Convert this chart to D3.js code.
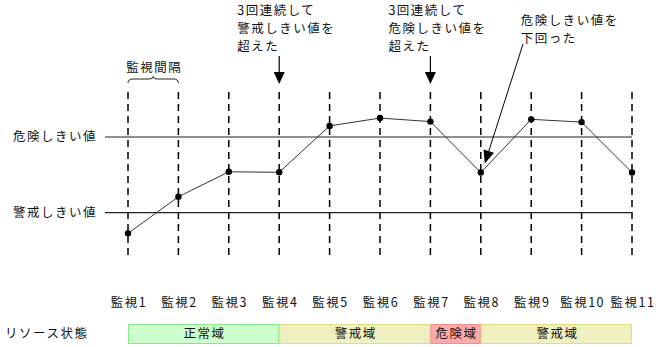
<!DOCTYPE html>
<html><head><meta charset="utf-8">
<script src="https://cdn.jsdelivr.net/npm/d3@7"></script>
<style>
body{margin:0;background:#fff;}
text{font-family:"Noto Sans CJK JP","Noto Sans",sans-serif;font-size:12.5px;fill:#111;letter-spacing:1.5px;}
</style></head><body>
<svg id="c" width="656" height="347"></svg>
<script>
const categories = ["監視1","監視2","監視3","監視4","監視5","監視6","監視7","監視8","監視9","監視10","監視11"];
const values = [31.8, 46.3, 56.2, 56.0, 74.4, 77.5, 76.1, 55.9, 77.0, 75.9, 55.9];
const thresholdLabels = ["危険しきい値","警戒しきい値"];
const thresholdValues = [70, 40];
const stateLabels = ["正常域","警戒域","危険域","警戒域"];
const stateStart = [0, 3, 6, 7];
const stateEnd = [3, 6, 7, 10];
const stateTypes = ["normal","warning","danger","warning"];
const annotations = [
  {lines:["3回連続して","警戒しきい値を","超えた"], at:3},
  {lines:["3回連続して","危険しきい値を","超えた"], at:6}
];
const noteBelow = {lines:["危険しきい値を","下回った"], at:7};

const svg = d3.select("#c");
const x = d3.scalePoint().domain(categories).range([128, 632]);
const y = d3.scaleLinear().domain([0, 100]).range([313.6, 61.3]);
const fills = {normal:"#ccffcc", warning:"#efefc0", danger:"#ffaaaa"};
const strokes = {normal:"#88e888", warning:"#dede80", danger:"#ee9090"};
const LH = 18.2;

// dashed verticals
svg.append("g").selectAll("line").data(categories).join("line")
  .attr("x1", d=>x(d)).attr("x2", d=>x(d)).attr("y1", 92).attr("y2", 259)
  .attr("stroke","#000").attr("stroke-width",1.5).attr("stroke-dasharray","7,5");

// thresholds
const th = svg.append("g");
thresholdValues.forEach((v,i)=>{
  th.append("line").attr("x1",105).attr("x2",x(categories[categories.length-1]))
    .attr("y1",y(v)).attr("y2",y(v)).attr("stroke","#222").attr("stroke-width",1.2);
  th.append("text").attr("x",13).attr("y",y(v)).attr("dy","0.35em").text(thresholdLabels[i]);
});

// series line
const line = d3.line().x((d,i)=>x(categories[i])).y(d=>y(d));
svg.append("path").datum(values).attr("d",line).attr("fill","none").attr("stroke","#333").attr("stroke-width",1);
svg.append("g").selectAll("circle").data(values).join("circle")
  .attr("cx",(d,i)=>x(categories[i])).attr("cy",d=>y(d)).attr("r",3.2).attr("fill","#000");

// category labels
svg.append("g").selectAll("text").data(categories).join("text")
  .attr("x",d=>x(d)+1).attr("y",303).attr("dy","0.35em").attr("text-anchor","middle").text(d=>d);

// resource state bar
svg.append("text").attr("x",5).attr("y",334).attr("dy","0.35em").text("リソース状態");
const sg = svg.append("g");
stateLabels.forEach((lab,i)=>{
  const x0 = x(categories[stateStart[i]]), x1 = x(categories[stateEnd[i]]);
  sg.append("rect").attr("x",x0+0.5).attr("y",324.5).attr("width",x1-x0-1).attr("height",19)
    .attr("fill",fills[stateTypes[i]]).attr("stroke",strokes[stateTypes[i]]).attr("stroke-width",1);
  sg.append("text").attr("x",(x0+x1)/2+1).attr("y",334).attr("dy","0.35em").attr("text-anchor","middle").text(lab);
});

// interval brace
const b0 = x(categories[0]), b1 = x(categories[1]), bm = (b0+b1)/2;
svg.append("text").attr("x",bm+1).attr("y",68).attr("dy","0.35em").attr("text-anchor","middle").text("監視間隔");
svg.append("path").attr("d",`M${b0},83 Q${b0},79 ${b0+5},79 L${bm-4},79 Q${bm},79 ${bm},76.5 Q${bm},79 ${bm+4},79 L${b1-5},79 Q${b1},79 ${b1},83`)
  .attr("fill","none").attr("stroke","#222").attr("stroke-width",1);

// annotations with down arrows
annotations.forEach(a=>{
  const ax = x(categories[a.at]);
  a.lines.forEach((t,j)=>{
    svg.append("text").attr("x",ax-42).attr("y",28.75+(j-1)*LH).attr("dy","0.35em").text(t);
  });
  svg.append("line").attr("x1",ax).attr("x2",ax).attr("y1",56).attr("y2",74).attr("stroke","#000").attr("stroke-width",1.2);
  svg.append("path").attr("d",`M${ax-5.5},72 L${ax+5.5},72 L${ax},84 Z`).attr("fill","#000");
});

// diagonal note
const nx = x(categories[noteBelow.at]);
noteBelow.lines.forEach((t,j)=>{
  svg.append("text").attr("x",nx+40).attr("y",29.85+(j-0.5)*LH).attr("dy","0.35em").text(t);
});
const sx = 523, sy = 44, tx = nx+4, ty = y(values[noteBelow.at]) - 9;
const ang = Math.atan2(ty-sy, tx-sx);
const hl = 13, hw = 5.5;
const bx = tx - hl*Math.cos(ang), by = ty - hl*Math.sin(ang);
svg.append("line").attr("x1",sx).attr("y1",sy).attr("x2",bx).attr("y2",by).attr("stroke","#000").attr("stroke-width",1);
svg.append("path").attr("d",`M${tx},${ty} L${bx - hw*Math.sin(ang)},${by + hw*Math.cos(ang)} L${bx + hw*Math.sin(ang)},${by - hw*Math.cos(ang)} Z`).attr("fill","#000");
</script></body></html>
